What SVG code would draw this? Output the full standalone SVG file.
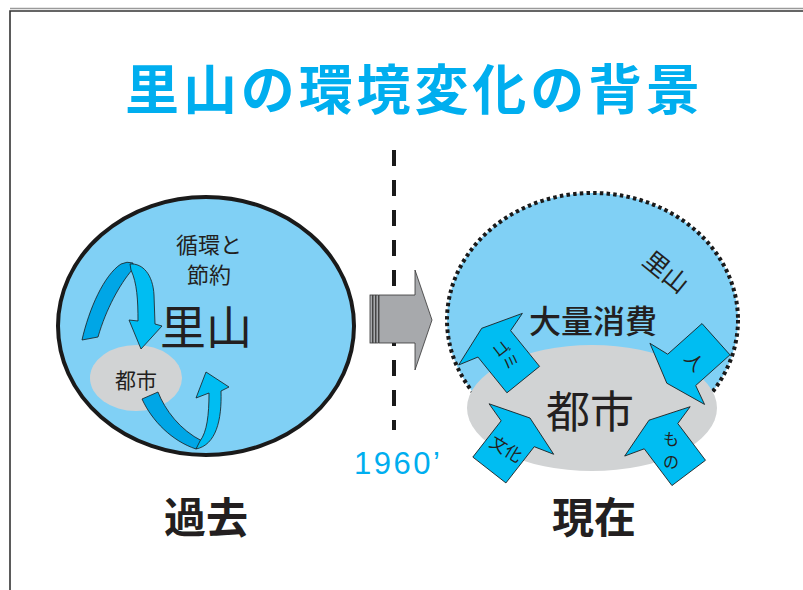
<svg xmlns="http://www.w3.org/2000/svg" width="803" height="590" viewBox="0 0 803 590">
<defs>
<style>
.jp{font-family:"Noto Sans CJK JP","Noto Sans CJK SC",sans-serif;fill:#231f20;text-anchor:middle}
.blue{fill:#80d0f5}
.gray{fill:#d1d3d4}
.arr{fill:#00bdf2;stroke:#1a1a1a;stroke-width:0.8;stroke-linejoin:miter}
.arrd{fill:#00a6e6;stroke:#1a1a1a;stroke-width:0.8}
.lbl{font-size:16px}
</style>
<path id="blk" d="M0,0 L41,14 L21,20 L21,66 L-21,66 L-21,20 L-41,14 Z"/>
</defs>
<rect width="803" height="590" fill="#fff"/>
<g id="frame" fill="none">
<path d="M10,8.5 H803" stroke="#9a9a9a" stroke-width="1.5"/>
<path d="M10,590 V11 H803" stroke="#333" stroke-width="1.6"/>
</g>
<g id="title">
<text x="125" y="110" textLength="575" lengthAdjust="spacing" style="font-family:'Noto Sans CJK JP','Noto Sans CJK SC',sans-serif;font-weight:bold;font-size:54px;fill:#00aeef">里山の環境変化の背景</text>
</g>
<g id="past">
<ellipse cx="206" cy="326" rx="148" ry="129" class="blue" stroke="#1a1a1a" stroke-width="4"/>
<ellipse cx="136" cy="378" rx="46" ry="33" class="gray"/>
<text x="136" y="388" class="jp" font-size="21">都市</text>
<text x="209" y="253" class="jp" font-size="22">循環と</text>
<text x="209" y="283" class="jp" font-size="22">節約</text>
<text x="206" y="344" class="jp" font-size="46">里山</text>
<g id="cycle-top">
<path class="arrd" d="M82,340 C89,309 104,275 121,264 Q127,261 133,263 L132,270 C120,284 106,309 98,337 Z"/>
<path class="arr" d="M130,264 C143,263 153,275 154,295 L155,324 L162,326 L141,349 L129,320 L138,321 C138,300 137,283 131,270 Z"/>
</g>
<g id="cycle-bottom">
<path class="arrd" d="M142,399 L158,392 C165,410 180,430 202,441 L196,449 C172,441 152,421 142,399 Z"/>
<path class="arr" d="M196,449 C216,445 222,420 221,391 L229,387 L206,372 L196,398 L209,393 C209,415 207,432 200,441 Z"/>
</g>
<text x="206" y="533" class="jp" font-size="42" font-weight="bold">過去</text>
</g>
<g id="divider">
<line x1="394" y1="150" x2="394" y2="430" stroke="#1a1a1a" stroke-width="4" stroke-dasharray="16 14"/>
<text x="354" y="474" textLength="86" lengthAdjust="spacing" style="font-family:'Liberation Sans',Arial,sans-serif;font-size:31px;fill:#00aeef">1960’</text>
</g>
<g id="shift-arrow" fill="#a7a9ac" stroke="#333" stroke-width="0.8">
<rect x="370" y="295" width="2.5" height="48"/>
<rect x="373" y="295" width="2.5" height="48"/>
<rect x="376" y="295" width="2.5" height="48"/>
<path d="M379,295 H415 V270 L432,320 L415,370 V343 H379 Z"/>
</g>
<g id="present">
<ellipse cx="592.5" cy="320" rx="145.5" ry="127" class="blue" stroke="#1a1a1a" stroke-width="4" stroke-dasharray="3.5 3.2"/>
<ellipse cx="592" cy="408" rx="125" ry="63" class="gray"/>
<text x="590" y="428" class="jp" font-size="44">都市</text>
<text x="593" y="333" class="jp" font-size="32" font-weight="500">大量消費</text>
<text transform="translate(666,272) rotate(39)" y="9" class="jp" font-size="25">里山</text>
<text x="594" y="533" class="jp" font-size="42" font-weight="bold">現在</text>
</g>
<g id="arrow-gomi">
<use href="#blk" class="arr" transform="translate(481.7,328.3) rotate(-39)"/>
<text transform="translate(506,355) rotate(52)" y="6" class="jp lbl">ゴミ</text>
</g>
<g id="arrow-bunka">
<use href="#blk" class="arr" transform="translate(530,418) rotate(38)"/>
<text transform="translate(506,449) rotate(31)" y="6" class="jp" font-size="17">文化</text>
</g>
<g id="arrow-hito">
<use href="#blk" class="arr" transform="translate(666.8,383.2) rotate(-131.8)"/>
<text transform="translate(694,362) rotate(50)" y="6" class="jp" font-size="18">人</text>
</g>
<g id="arrow-mono">
<use href="#blk" class="arr" transform="translate(649,420.2) rotate(-37)"/>
<text x="671" y="445" class="jp" font-size="16">も</text>
<text x="671" y="468" class="jp" font-size="16">の</text>
</g>
</svg>
